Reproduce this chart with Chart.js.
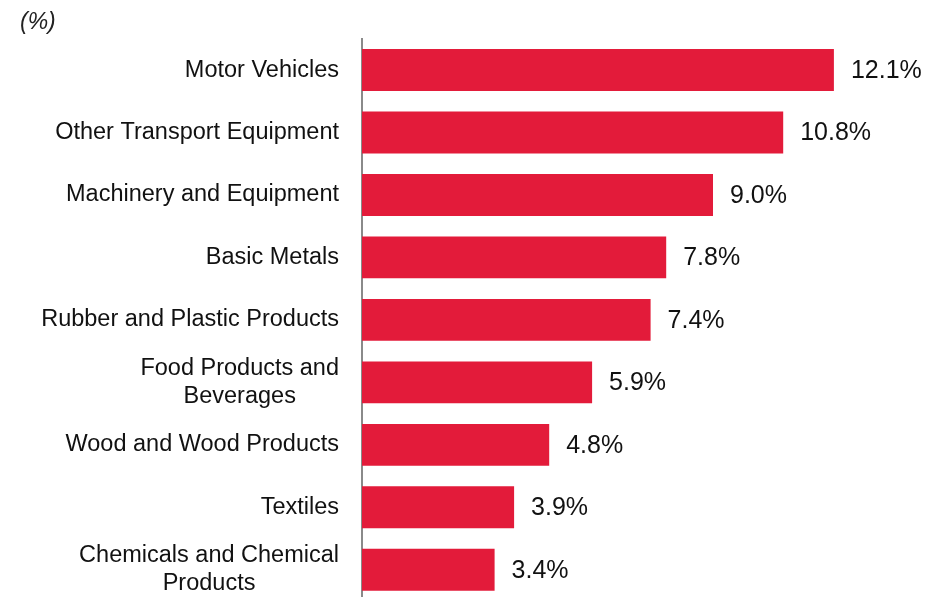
<!DOCTYPE html>
<html lang="en">
  <head>
    <meta charset="UTF-8" />
    <title>Sectors</title>
    <style>
      html, body { margin: 0; padding: 0; overflow: hidden; background: #fff; }
      #wrap { width: 945px; height: 601px; }
    </style>
    <script src="https://cdn.jsdelivr.net/npm/chart.js@4.4.0/dist/chart.umd.min.js"></script>
  </head>
  <body>
    <div id="wrap"><canvas id="myChart" width="945" height="601"></canvas></div>

    <script>
      const sectors = [
        'Motor Vehicles',
        'Other Transport Equipment',
        'Machinery and Equipment',
        'Basic Metals',
        'Rubber and Plastic Products',
        ['Food Products and', 'Beverages'],
        'Wood and Wood Products',
        'Textiles',
        ['Chemicals and Chemical', 'Products']
      ];
      const shares = [12.1, 10.8, 9.0, 7.8, 7.4, 5.9, 4.8, 3.9, 3.4];

      const FONT = 'Liberation Sans, Arial, sans-serif';

      // category names: block right-aligned to the axis, lines centred in the block
      const catLabels = {
        id: 'catLabels',
        afterDraw(chart) {
          const ctx = chart.ctx;
          const y = chart.scales.y;
          const right = y.right - 23;
          const lh = 28;
          ctx.save();
          ctx.font = '23.5px ' + FONT;
          ctx.fillStyle = '#111';
          ctx.textAlign = 'center';
          ctx.textBaseline = 'middle';
          sectors.forEach((lab, i) => {
            const lines = Array.isArray(lab) ? lab : [lab];
            const w = Math.max(...lines.map(l => ctx.measureText(l).width));
            const cx = right - w / 2;
            const cy = y.getPixelForTick(i);
            lines.forEach((l, k) => {
              ctx.fillText(l, cx, cy + (k - (lines.length - 1) / 2) * lh);
            });
          });
          ctx.restore();
        }
      };

      // value labels to the right of each bar
      const barLabels = {
        id: 'barLabels',
        afterDatasetsDraw(chart) {
          const ctx = chart.ctx;
          const meta = chart.getDatasetMeta(0);
          ctx.save();
          ctx.font = '25px ' + FONT;
          ctx.fillStyle = '#111';
          ctx.textAlign = 'left';
          ctx.textBaseline = 'middle';
          meta.data.forEach((bar, i) => {
            ctx.fillText(shares[i].toFixed(1) + '%', bar.x + 17, bar.y + 1);
          });
          ctx.restore();
        }
      };

      const ctx = document.getElementById('myChart').getContext('2d');
      new Chart(ctx, {
        type: 'bar',
        data: {
          labels: sectors,
          datasets: [{
            data: shares,
            backgroundColor: 'rgb(227, 27, 58)',
            borderWidth: 0,
            categoryPercentage: 1,
            barPercentage: 0.67
          }]
        },
        options: {
          indexAxis: 'y',
          responsive: false,
          animation: false,
          layout: { padding: { left: 20, right: 37, top: 0, bottom: 0 } },
          plugins: {
            legend: { display: false },
            tooltip: { enabled: false },
            title: {
              display: true,
              text: '(%)',
              align: 'start',
              color: '#222',
              font: { family: FONT, size: 23, style: 'italic', weight: 'normal', lineHeight: 1.2 },
              padding: { top: 9, bottom: 2.2 }
            }
          },
          scales: {
            x: { display: false, min: 0, max: 14 },
            y: {
              afterFit(scale) {
                scale.width = 342;
                scale.paddingTop = 0;
                scale.paddingBottom = 0;
              },
              grid: { display: false, drawTicks: false },
              border: { display: true, color: '#8a8a8a', width: 2 },
              ticks: { display: false }
            }
          }
        },
        plugins: [barLabels, catLabels]
      });
    </script>
  </body>
</html>
